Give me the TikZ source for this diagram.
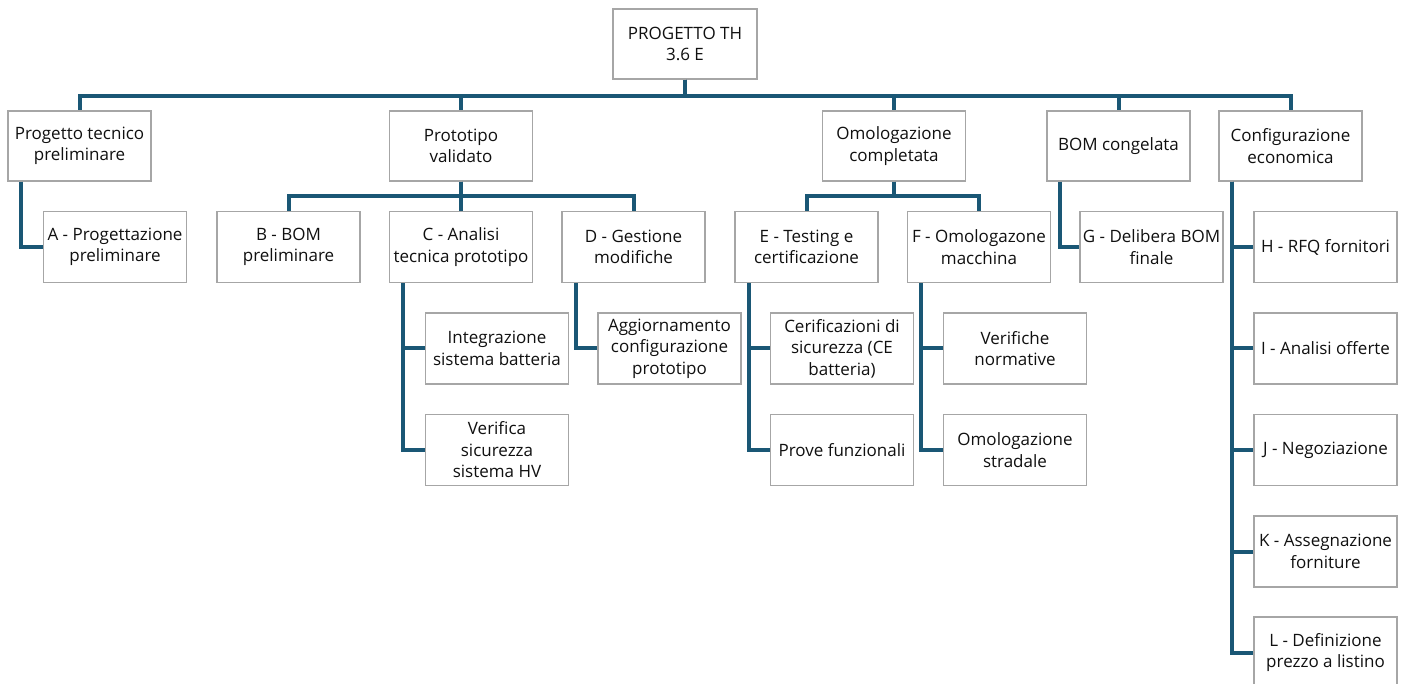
\documentclass[tikz,border=0pt]{standalone}
\usepackage{fontspec}
\setmainfont{Open Sans}
\usetikzlibrary{positioning,calc}
\definecolor{wire}{HTML}{1A5775}
\definecolor{frame}{HTML}{A6A6A6}
\definecolor{ink}{HTML}{101010}

\begin{document}
\begin{tikzpicture}[
  x=1pt, y=-1pt,
  font=\fontsize{17}{21.5}\selectfont,
  link/.style={line width=4pt, draw=wire},
  box/.style={draw=frame, line width=1.3pt, fill=white, text=ink, align=center,
              minimum width=143pt, minimum height=71pt, inner sep=0pt},
  top/.style={box, minimum width=144pt, minimum height=70pt},
  head/.style={box, minimum height=70pt}
]
\useasboundingbox (0,0) rectangle (1403,684);
\clip (0,0) rectangle (1403,684);

% root
\node[top] (root) at (685,44) {PROGETTO TH\\3.6 E};

% first level
\node[head] (tec) at (79.5,146)  {Progetto tecnico\\preliminare};
\node[head] (pro) at (461,146)   {Prototipo\\validato};
\node[head] (omo) at (894,146)   {Omologazione\\completata};
\node[head] (bom) at (1118.5,146) {BOM congelata};
\node[head] (eco) at (1290.5,146) {Configurazione\\economica};

\foreach \n in {tec,pro,omo,bom,eco}
  \draw[link] (root.south) -- ++(0,16) -| (\n.north);

% second level
\node[box] (A) at (115,247)    {A - Progettazione\\preliminare};
\node[box] (B) at (288.5,247)  {B - BOM\\preliminare};
\node[box] (C) at (461,247)    {C - Analisi\\tecnica prototipo};
\node[box] (D) at (633.5,247)  {D - Gestione\\modifiche};
\node[box] (E) at (806.5,247)  {E - Testing e\\certificazione};
\node[box] (F) at (979,247)    {F - Omologazone\\macchina};
\node[box] (G) at (1151.5,247) {G - Delibera BOM\\finale};
\node[box] (H) at (1325.5,247) {H - RFQ fornitori};
\node[box] (I) at (1325.5,348.5) {I - Analisi offerte};
\node[box] (J) at (1325.5,450) {J - Negoziazione};
\node[box] (K) at (1325.5,551.5) {K - Assegnazione\\forniture};
\node[box] (L) at (1325.5,652.5) {L - Definizione\\prezzo a listino};

\draw[link] ([xshift=14pt]tec.south west) |- (A.west);
\foreach \n in {B,C,D}
  \draw[link] (pro.south) -- ++(0,14) -| (\n.north);
\foreach \n in {E,F}
  \draw[link] (omo.south) -- ++(0,14) -| (\n.north);
\draw[link] ([xshift=14pt]bom.south west) |- (G.west);
\foreach \n in {H,I,J,K,L}
  \draw[link] ([xshift=14pt]eco.south west) |- (\n.west);

% third level
\node[box] (batt) at (497,348.5)  {Integrazione\\sistema batteria};
\node[box] (hv)   at (497,450)    {Verifica\\sicurezza\\sistema HV};
\node[box] (agg)  at (669.5,348.5) {Aggiornamento\\configurazione\\prototipo};
\node[box] (cert) at (842,348.5)  {Cerificazioni di\\sicurezza (CE\\batteria)};
\node[box] (prove) at (842,450)   {Prove funzionali};
\node[box] (norm) at (1015,348.5) {Verifiche\\normative};
\node[box] (strad) at (1015,450)  {Omologazione\\stradale};

\foreach \n in {batt,hv}
  \draw[link] ([xshift=14pt]C.south west) |- (\n.west);
\draw[link] ([xshift=15pt]D.south west) |- (agg.west);
\foreach \n in {cert,prove}
  \draw[link] ([xshift=15pt]E.south west) |- (\n.west);
\foreach \n in {norm,strad}
  \draw[link] ([xshift=14pt]F.south west) |- (\n.west);

\end{tikzpicture}
\end{document}
